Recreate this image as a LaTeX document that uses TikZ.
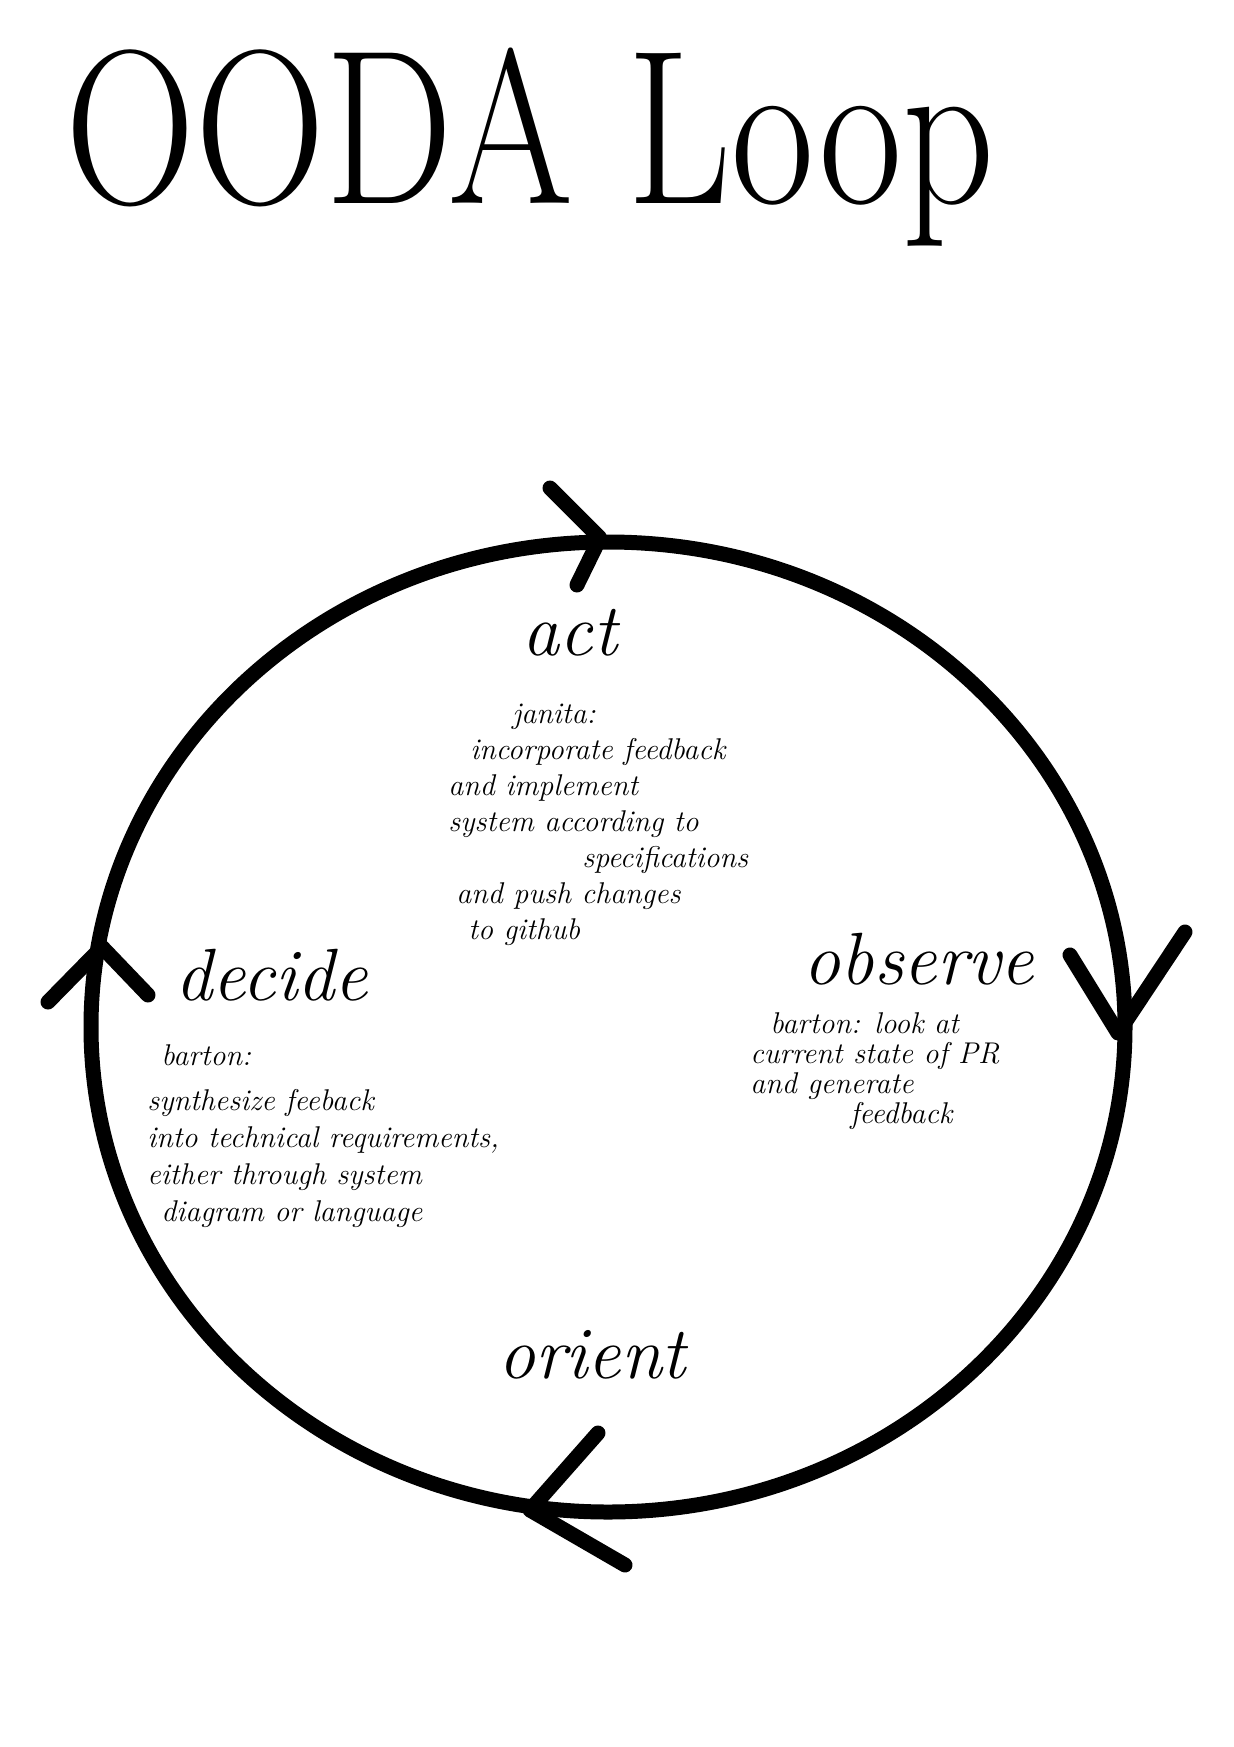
\documentclass[tikz,border=0pt]{standalone}
\usetikzlibrary{positioning}
\begin{document}
\begin{tikzpicture}[x=0.5pt, y=-0.5pt]
            \tikzstyle{loopline} = [line width=7.5pt, draw=black]
            \tikzstyle{chevron} = [line width=7.5pt, draw=black, line cap=round, line join=round]
            \tikzstyle{phase} = [inner sep=0pt, anchor=base, font=\fontsize{37}{40}\selectfont\itshape]
            \tikzstyle{notes} = [inner sep=0pt, anchor=north west, align=left, font=\fontsize{15}{18}\selectfont\itshape]
            \useasboundingbox (0, 0) rectangle (1234, 1747);
            \node[inner sep=0pt, anchor=base, font=\fontsize{110}{110}\selectfont] (title) at (530, 203) {\scalebox{0.82}[1]{OODA Loop}};

            \coordinate (ctr) at (608, 1027);
            \draw[loopline] (ctr) ellipse [x radius=517, y radius=485];

            \node[phase] (act) at (570, 655) {act};
            \node[phase] (observe) at (919, 984) {observe};
            \node[phase] (decide) at (272, 1000) {decide};
            \node[phase] (orient) at (592, 1378) {orient};

            \node[notes] (actnotes) at (448, 704) {\hspace*{32pt}janita:\\
                \hspace*{11pt}incorporate feedback\\
                and implement\\
                system according to\\
                \hspace*{67pt}specifications\\
                \hspace*{4pt}and push changes\\
                \hspace*{10pt}to github};
            \node[notes, font=\fontsize{15}{18.5}\selectfont\itshape] (decidenotes) at (147, 1044) {\hspace*{7pt}barton:\\[4pt]
                synthesize feeback\\
                into technical requirements,\\
                either through system\\
                \hspace*{7pt}diagram or language};
            \node[notes, font=\fontsize{15}{15}\selectfont\itshape] (observenotes) at (750, 1012) {\hspace*{10pt}barton: look at\\
                current state of PR\\
                and generate\\
                \hspace*{50pt}feedback};

            \coordinate (actTip) at (600, 538);
            \coordinate (observeTip) at (1118, 1033);
            \coordinate (orientTip) at (530, 1510);
            \coordinate (decideTip) at (102, 947);
            \draw[chevron] (550, 488) -- (actTip) -- (577, 585);
            \draw[chevron] (1070, 955) -- (observeTip) -- (1185, 932);
            \draw[chevron] (598, 1433) -- (orientTip) -- (625, 1565);
            \draw[chevron] (48, 1002) -- (decideTip) -- (148, 995);
        \end{tikzpicture}
\end{document}
